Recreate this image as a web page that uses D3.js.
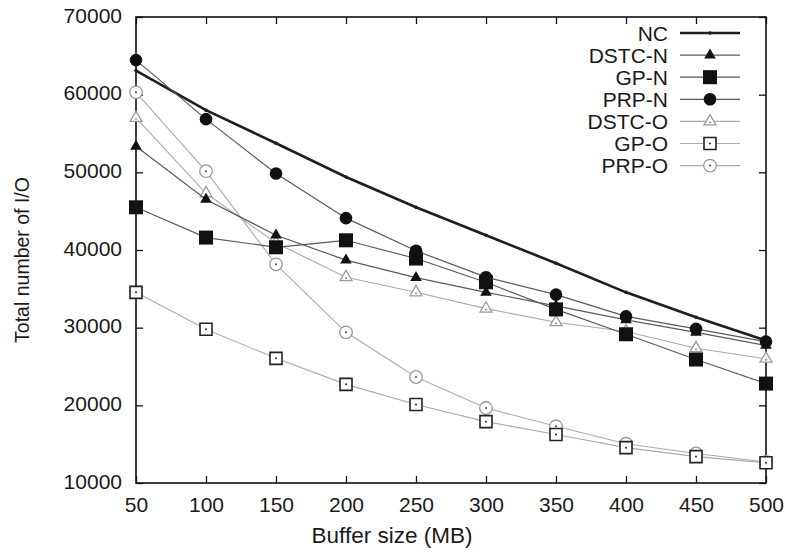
<!DOCTYPE html>
<html>
<head>
<meta charset="utf-8">
<script src="https://cdn.jsdelivr.net/npm/d3@7/dist/d3.min.js"></script>
<style>
  html, body { margin: 0; padding: 0; background: #fff; }
  svg { display: block; }
  text { font-family: "Liberation Sans", Arial, Helvetica, sans-serif; fill: #1a1a1a; }
</style>
</head>
<body>
<svg id="chart" width="785" height="554"></svg>
<script>
// Buffer sizes (MB)
const bufferSizes = [50, 100, 150, 200, 250, 300, 350, 400, 450, 500];

// Total number of I/O per method
const NC      = [63100, 58000, 53750, 49400, 45500, 41900, 38300, 34550, 31330, 28350];
const DSTC_N  = [53350, 46500, 41900, 38700, 36450, 34550, 32800, 31000, 29400, 27700];
const GP_N    = [45500, 41600, 40350, 41250, 38900, 35850, 32350, 29150, 25900, 22800];
const PRP_N   = [64450, 56850, 49850, 44100, 39900, 36500, 34250, 31450, 29850, 28200];
const DSTC_O  = [57000, 47300, 40900, 36500, 34550, 32450, 30700, 29500, 27350, 26000];
const GP_O    = [34550, 29800, 26050, 22700, 20100, 17900, 16250, 14550, 13400, 12600];
const PRP_O   = [60300, 50150, 38150, 29400, 23650, 19650, 17300, 15050, 13800, 12700];

const seriesNames = ["NC", "DSTC-N", "GP-N", "PRP-N", "DSTC-O", "GP-O", "PRP-O"];
const seriesValues = [NC, DSTC_N, GP_N, PRP_N, DSTC_O, GP_O, PRP_O];

const xTicks = [50, 100, 150, 200, 250, 300, 350, 400, 450, 500];
const yTicks = [10000, 20000, 30000, 40000, 50000, 60000, 70000];

// Line and marker styling for each series
const styles = {
  "NC":     { line: "#1e1e1e", width: 2.6, marker: "dot" },
  "DSTC-N": { line: "#5a5a5a", width: 1.2, marker: "triFill" },
  "GP-N":   { line: "#5a5a5a", width: 1.2, marker: "sqFill" },
  "PRP-N":  { line: "#5a5a5a", width: 1.2, marker: "circFill" },
  "DSTC-O": { line: "#ababab", width: 1.1, marker: "triOpen" },
  "GP-O":   { line: "#ababab", width: 1.1, marker: "sqOpen" },
  "PRP-O":  { line: "#ababab", width: 1.1, marker: "circOpen" }
};

const svg = d3.select("#chart");
const plotL = 136, plotR = 766, plotT = 17, plotB = 483;

const x = d3.scaleLinear().domain([50, 500]).range([plotL, plotR]);
const y = d3.scaleLinear().domain([10000, 70000]).range([plotB, plotT]);

// Axes with inward ticks on all four sides
const tickLen = 7;
const axFont = "21px";

const gL = svg.append("g").attr("transform", `translate(${plotL},0)`)
  .call(d3.axisLeft(y).tickValues(yTicks).tickSize(-tickLen).tickPadding(14).tickFormat(d3.format("d")));
const gB = svg.append("g").attr("transform", `translate(0,${plotB})`)
  .call(d3.axisBottom(x).tickValues(xTicks).tickSize(-tickLen).tickPadding(14).tickFormat(d3.format("d")));
const gR = svg.append("g").attr("transform", `translate(${plotR},0)`)
  .call(d3.axisRight(y).tickValues(yTicks).tickSize(-tickLen).tickFormat(""));
const gT = svg.append("g").attr("transform", `translate(0,${plotT})`)
  .call(d3.axisTop(x).tickValues(xTicks).tickSize(-tickLen).tickFormat(""));

[gL, gB, gR, gT].forEach(g => {
  g.select(".domain").remove();
  g.selectAll(".tick line").attr("stroke", "#111").attr("stroke-width", 1.3);
  g.selectAll("text").attr("font-size", axFont)
    .attr("font-family", "Liberation Sans, Arial, sans-serif").attr("fill", "#222");
});
gL.selectAll("text").attr("dy", "0.25em");
gB.selectAll("text").attr("dy", "0.72em");

// Frame
svg.append("rect")
  .attr("x", plotL).attr("y", plotT)
  .attr("width", plotR - plotL).attr("height", plotB - plotT)
  .attr("fill", "none").attr("stroke", "#111").attr("stroke-width", 1.6);

// Axis titles
svg.append("text")
  .attr("x", 392).attr("y", 543)
  .attr("text-anchor", "middle")
  .attr("font-size", "22.5px")
  .text("Buffer size (MB)");

svg.append("text")
  .attr("transform", "translate(29,260) rotate(-90)")
  .attr("text-anchor", "middle")
  .attr("font-size", "19.5px")
  .text("Total number of I/O");

// Marker drawing
function drawMarker(g, kind, cx, cy) {
  const t = `translate(${cx},${cy})`;
  switch (kind) {
    case "dot":
      g.append("circle").attr("cx", cx).attr("cy", cy).attr("r", 1.8).attr("fill", "#1e1e1e");
      break;
    case "triFill":
      g.append("path").attr("transform", t)
        .attr("d", d3.symbol().type(d3.symbolTriangle).size(58)())
        .attr("fill", "#111");
      break;
    case "sqFill":
      g.append("path").attr("transform", t)
        .attr("d", d3.symbol().type(d3.symbolSquare).size(196)())
        .attr("fill", "#111");
      break;
    case "circFill":
      g.append("circle").attr("cx", cx).attr("cy", cy).attr("r", 6.3).attr("fill", "#111");
      break;
    case "triOpen":
      g.append("path").attr("transform", t)
        .attr("d", d3.symbol().type(d3.symbolTriangle).size(62)())
        .attr("fill", "#fff").attr("stroke", "#9a9a9a").attr("stroke-width", 1.3);
      g.append("circle").attr("cx", cx).attr("cy", cy + 1).attr("r", 0.9).attr("fill", "#777");
      break;
    case "sqOpen":
      g.append("path").attr("transform", t)
        .attr("d", d3.symbol().type(d3.symbolSquare).size(144)())
        .attr("fill", "#fff").attr("stroke", "#222").attr("stroke-width", 1.6);
      g.append("circle").attr("cx", cx).attr("cy", cy).attr("r", 1).attr("fill", "#222");
      break;
    case "circOpen":
      g.append("circle").attr("cx", cx).attr("cy", cy).attr("r", 6.3)
        .attr("fill", "#fff").attr("stroke", "#9a9a9a").attr("stroke-width", 1.3);
      g.append("circle").attr("cx", cx).attr("cy", cy).attr("r", 1).attr("fill", "#444");
      break;
  }
}

const line = d3.line().x((d, i) => x(bufferSizes[i])).y(d => y(d));

// Draw series in an order that keeps NC and the filled markers on top
const order = [6, 5, 4, 0, 1, 2, 3];
order.forEach(k => {
  const name = seriesNames[k];
  const st = styles[name];
  const g = svg.append("g").attr("class", "series");
  g.append("path")
    .attr("d", line(seriesValues[k]))
    .attr("fill", "none")
    .attr("stroke", st.line)
    .attr("stroke-width", st.width);
  seriesValues[k].forEach((v, i) => drawMarker(g, st.marker, x(bufferSizes[i]), y(v)));
});

// Legend
const legX = 668, legY0 = 33, legStep = 22.1;
seriesNames.forEach((name, k) => {
  const st = styles[name];
  const cy = legY0 + k * legStep;
  const g = svg.append("g").attr("class", "legend-item");
  g.append("text")
    .attr("x", legX).attr("y", cy + 7.5)
    .attr("text-anchor", "end")
    .attr("font-size", "21px")
    .text(name);
  g.append("line")
    .attr("x1", 680).attr("x2", 740).attr("y1", cy).attr("y2", cy)
    .attr("stroke", st.line).attr("stroke-width", st.width);
  drawMarker(g, st.marker, 710, cy);
});
</script>
</body>
</html>
